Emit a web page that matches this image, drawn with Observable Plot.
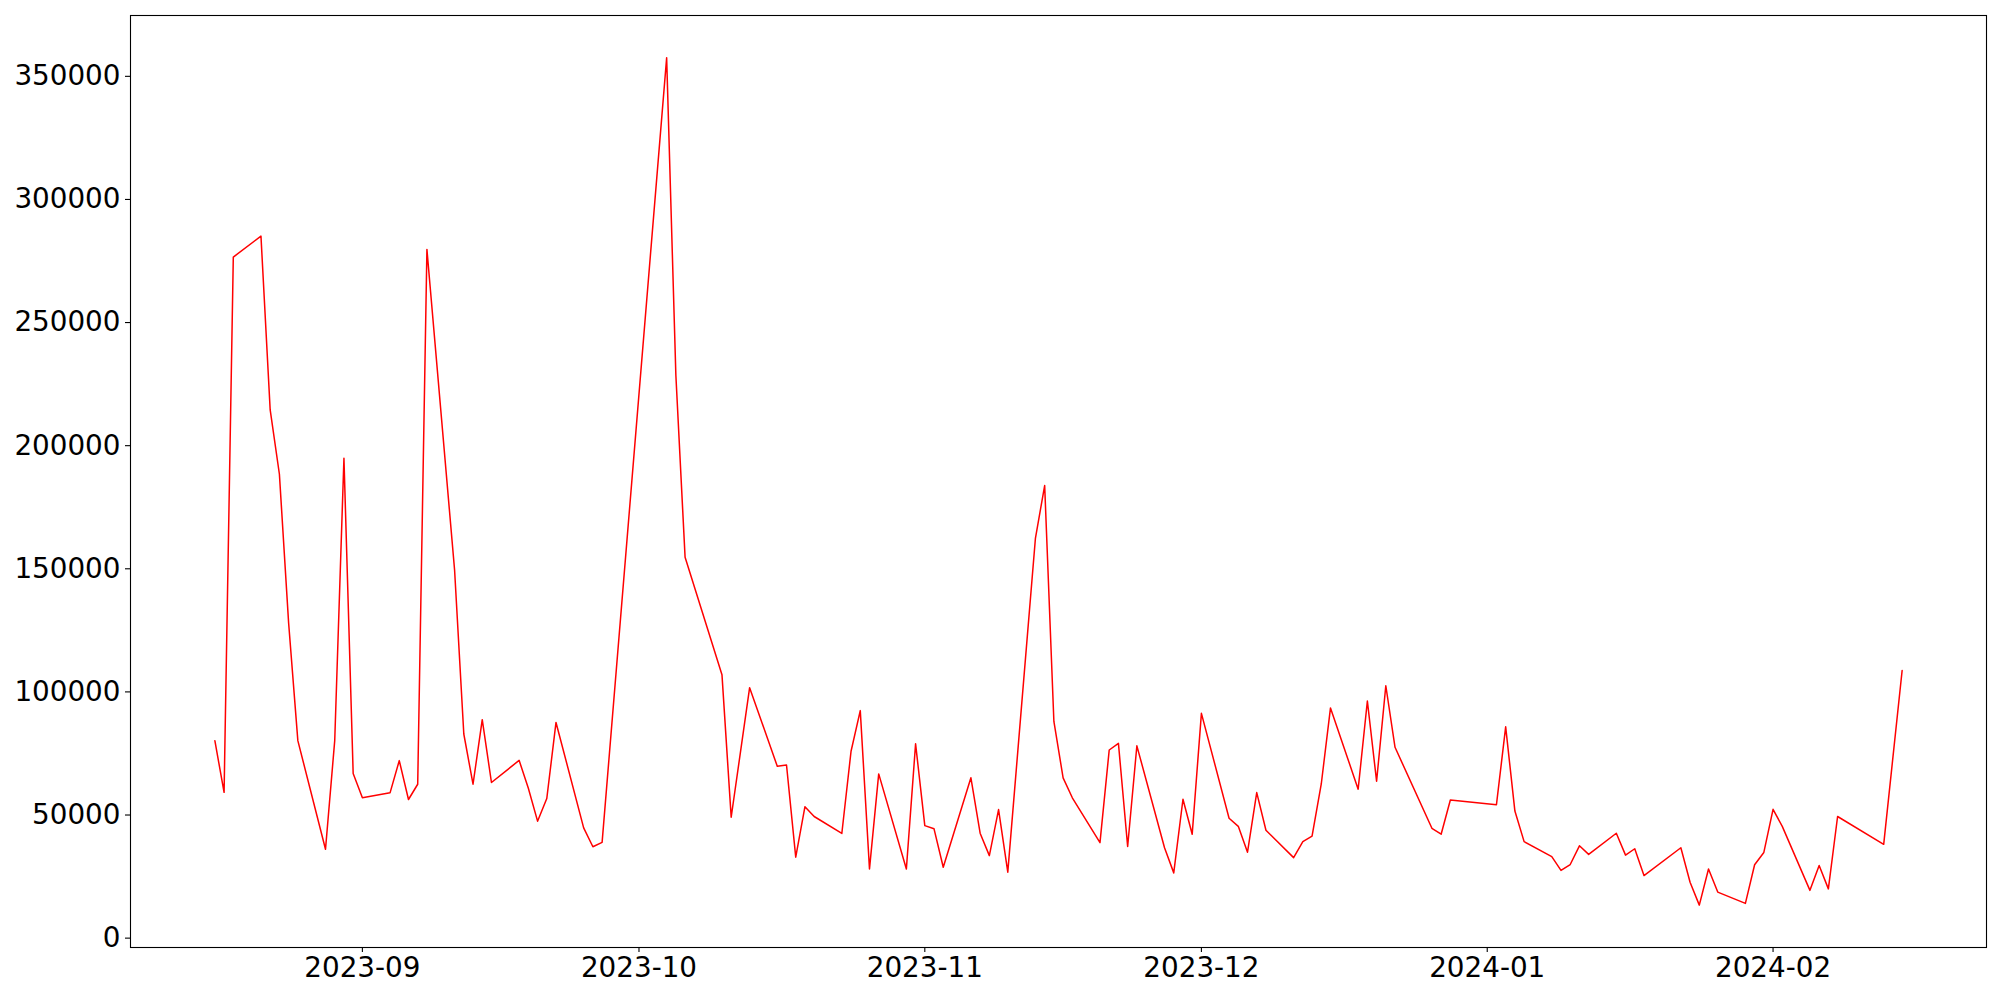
<!DOCTYPE html>
<html><head><meta charset="utf-8">
<script src="https://cdn.jsdelivr.net/npm/d3@7"></script>
<script src="https://cdn.jsdelivr.net/npm/@observablehq/plot@0.6"></script>
<style>html,body{margin:0;padding:0;background:#fff}</style>
</head><body><div id="chart"></div>
<script>
const dates = [
"2023-08-16","2023-08-17","2023-08-18","2023-08-21","2023-08-22","2023-08-23","2023-08-24","2023-08-25",
"2023-08-28","2023-08-29","2023-08-30","2023-08-31","2023-09-01",
"2023-09-04","2023-09-05","2023-09-06","2023-09-07","2023-09-08",
"2023-09-11","2023-09-12","2023-09-13","2023-09-14","2023-09-15",
"2023-09-18","2023-09-19","2023-09-20","2023-09-21","2023-09-22",
"2023-09-25","2023-09-26","2023-09-27",
"2023-10-04","2023-10-05","2023-10-06",
"2023-10-10","2023-10-11","2023-10-13",
"2023-10-16","2023-10-17","2023-10-18","2023-10-19","2023-10-20",
"2023-10-23","2023-10-24","2023-10-25","2023-10-26","2023-10-27",
"2023-10-30","2023-10-31","2023-11-01","2023-11-02","2023-11-03",
"2023-11-06","2023-11-07","2023-11-08","2023-11-09","2023-11-10",
"2023-11-13","2023-11-14","2023-11-15","2023-11-16","2023-11-17",
"2023-11-20","2023-11-21","2023-11-22","2023-11-23","2023-11-24",
"2023-11-27","2023-11-28","2023-11-29","2023-11-30","2023-12-01",
"2023-12-04","2023-12-05","2023-12-06","2023-12-07","2023-12-08",
"2023-12-11","2023-12-12","2023-12-13","2023-12-14","2023-12-15",
"2023-12-18","2023-12-19","2023-12-20","2023-12-21","2023-12-22",
"2023-12-26","2023-12-27","2023-12-28",
"2024-01-02","2024-01-03","2024-01-04","2024-01-05",
"2024-01-08","2024-01-09","2024-01-10","2024-01-11","2024-01-12",
"2024-01-15","2024-01-16","2024-01-17","2024-01-18",
"2024-01-22","2024-01-23","2024-01-24","2024-01-25","2024-01-26",
"2024-01-29","2024-01-30","2024-01-31","2024-02-01","2024-02-02",
"2024-02-05","2024-02-06","2024-02-07","2024-02-08",
"2024-02-13","2024-02-15"
];
const values = [
80200,59200,276600,285100,214500,188400,128000,80200,
36100,80200,194900,66900,57000,
59000,72100,56300,62500,279700,
149500,82900,62500,88700,63200,
72200,60900,47500,56700,87600,
44800,37100,38900,
357500,228600,154700,
107000,49100,101700,
69800,70300,32900,53400,49400,
42500,75900,92400,28100,66700,
28100,78900,45700,44400,28800,
65100,42600,33500,52200,26800,
162500,183800,88000,65100,57000,
38800,76400,79100,37200,78100,
36700,26500,56400,42200,91300,
48700,45400,34900,59100,43800,
32700,39200,41400,62600,93500,
60500,96300,63700,102500,77500,
44600,42200,56100,
54200,85800,51600,39200,
33100,27500,29900,37500,34000,
42600,33700,36300,25400,
36700,22700,13400,28100,18700,
14100,29800,34800,52300,45400,
19400,29500,20000,49400,
38100,108700
];
const yTicks = [0, 50000, 100000, 150000, 200000, 250000, 300000, 350000];
const xTickLabels = ["2023-09", "2023-10", "2023-11", "2023-12", "2024-01", "2024-02"];

const data = dates.map((d, i) => ({date: new Date(d), value: values[i]}));
const [xMin, xMax] = d3.extent(data, d => d.date);
const padX = (xMax - xMin) * 0.05;
const [yMin, yMax] = d3.extent(values);
const padY = (yMax - yMin) * 0.05;
const xTicks = xTickLabels.map(s => new Date(s + "-01"));

const chart = Plot.plot({
  width: 2000,
  height: 1000,
  marginLeft: 130,
  marginRight: 14,
  marginTop: 15,
  marginBottom: 53,
  style: {fontFamily: "DejaVu Sans", fontSize: "27.8px", background: "#fff", color: "#000"},
  x: {type: "utc", domain: [new Date(+xMin - padX), new Date(+xMax + padX)]},
  y: {domain: [yMin - padY, yMax + padY]},
  marks: [
    Plot.axisX(xTicks, {tickFormat: d3.utcFormat("%Y-%m"), tickSize: 5, tickPadding: 5, label: null, fontSize: 27.8, strokeWidth: 1.1}),
    Plot.axisY(yTicks, {tickFormat: d => String(d), tickSize: 5, tickPadding: 5, label: null, fontSize: 27.8, strokeWidth: 1.1}),
    Plot.line(data, {x: "date", y: "value", stroke: "red", strokeWidth: 1.5}),
    Plot.frame({stroke: "black", strokeWidth: 1.1})
  ]
});
document.getElementById("chart").appendChild(chart);
</script>
</body></html>
